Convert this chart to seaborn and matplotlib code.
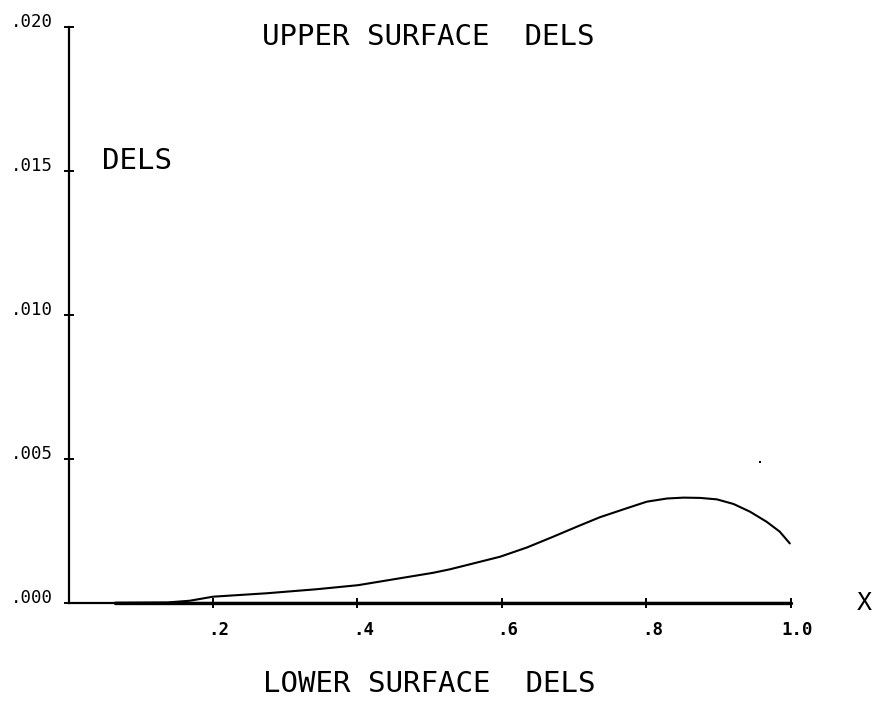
import matplotlib
matplotlib.use("Agg")
import matplotlib.pyplot as plt
import seaborn as sns
import pandas as pd

# Upper surface displacement thickness along the chord
upper_x = [0.064, 0.137, 0.168, 0.200, 0.275, 0.344, 0.401, 0.459, 0.505, 0.528,
           0.552, 0.598, 0.635, 0.671, 0.704, 0.736, 0.773, 0.801, 0.829, 0.852,
           0.875, 0.898, 0.921, 0.944, 0.967, 0.985, 0.999]
upper_dels = [0.00001, 0.00002, 0.00008, 0.00022, 0.00034, 0.00048, 0.00062, 0.00086, 0.00105, 0.00117,
              0.00132, 0.00161, 0.00193, 0.00230, 0.00265, 0.00298, 0.00329, 0.00352, 0.00363, 0.00366,
              0.00365, 0.00360, 0.00344, 0.00317, 0.00282, 0.00248, 0.00207]

# Lower surface displacement thickness (stays on the zero line)
lower_x = [0.065, 0.2, 0.3, 0.4, 0.5, 0.6, 0.7, 0.8, 0.9, 1.0]
lower_dels = [0.0, 0.0, 0.0, 0.0, 0.0, 0.0, 0.0, 0.0, 0.0, 0.0]

# isolated plotted point
stray_x = [0.958]
stray_dels = [0.0049]

x_ticks = [0.2, 0.4, 0.6, 0.8, 1.0]
x_tick_labels = [".2", ".4", ".6", ".8", "1.0"]
y_ticks = [0.0, 0.005, 0.010, 0.015, 0.020]
y_tick_labels = [".000", ".005", ".010", ".015", ".020"]

sns.set_style("white")
plt.rcParams["font.family"] = ["DejaVu Sans Mono", "DejaVu Sans"]
plt.rcParams["text.color"] = "black"

fig = plt.figure(figsize=(8.74, 7.03), dpi=100)
ax = fig.add_axes([0.0784, 0.1422, 0.8261, 0.8193])

upper = pd.DataFrame({"x": upper_x, "dels": upper_dels})
lower = pd.DataFrame({"x": lower_x, "dels": lower_dels})

sns.lineplot(data=lower, x="x", y="dels", ax=ax, color="black", lw=2.4,
             sort=False, estimator=None, clip_on=False)
sns.lineplot(data=upper, x="x", y="dels", ax=ax, color="black", lw=1.5,
             sort=False, estimator=None, clip_on=False)
ax.plot(stray_x, stray_dels, "s", color="black", ms=1.6, mew=0)

ax.set_xlim(0, 1.0)
ax.set_ylim(0, 0.020)
ax.set_xlabel("")
ax.set_ylabel("")

for side in ("top", "right"):
    ax.spines[side].set_visible(False)
for side in ("left", "bottom"):
    ax.spines[side].set_linewidth(1.6)
    ax.spines[side].set_color("black")

ax.set_xticks(x_ticks)
ax.set_yticks(y_ticks)
ax.set_xticklabels([])
ax.set_yticklabels([])
ax.tick_params(axis="both", direction="inout", length=7.2, width=1.4,
               color="black", left=True, bottom=True)

for xv, lab in zip(x_ticks, x_tick_labels):
    ax.annotate(lab, xy=(xv, 0), xytext=(4.5, -13), textcoords="offset points",
                ha="center", va="top", fontsize=12.5, fontweight="bold",
                color="black", annotation_clip=False)
for yv, lab in zip(y_ticks, y_tick_labels):
    ax.annotate(lab, xy=(0, yv), xytext=(-11, 0), textcoords="offset points",
                ha="right", va="baseline", fontsize=12.5,
                color="black", annotation_clip=False)

ax.text(0.046, 0.01535, "DELS", ha="left", va="center", fontsize=21, color="black")
ax.text(1.092, 0.0, "X", ha="left", va="center", fontsize=18, color="black")

fig.text(262 / 874, 1 - 37 / 703, "UPPER SURFACE  DELS", ha="left",
         va="center", fontsize=21, color="black")
fig.text(263 / 874, 1 - 684 / 703, "LOWER SURFACE  DELS", ha="left",
         va="center", fontsize=21, color="black")

fig.savefig("out.png", dpi=100)
